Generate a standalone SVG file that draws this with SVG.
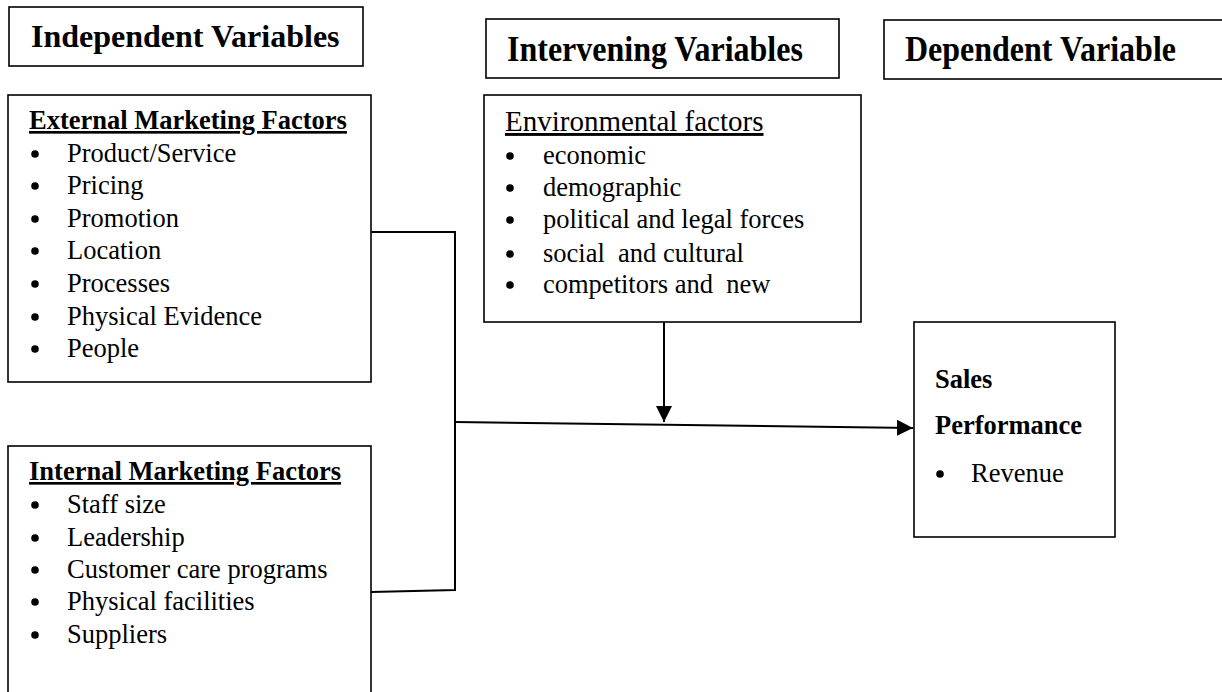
<svg xmlns="http://www.w3.org/2000/svg" width="1222" height="692" viewBox="0 0 1222 692">
<style>
.box{fill:#fff;stroke:#000;stroke-width:1.6}
.t{font-family:"Liberation Serif","Times New Roman",serif;fill:#000}
.hd{font-size:32px;font-weight:bold}
.it{font-size:26.5px}
.bh{font-size:26.5px;font-weight:bold;text-decoration:underline}
.sh{font-size:26.5px;font-weight:bold}
.eh{font-size:29px;text-decoration:underline}
.bul{fill:#000}
.con{fill:none;stroke:#000;stroke-width:2}
</style>
<defs>
<marker id="ah2" viewBox="0 0 10 10" refX="10" refY="5" markerWidth="16" markerHeight="16" markerUnits="userSpaceOnUse" orient="auto">
<path d="M0,0 L10,5 L0,10 Z" fill="#000"/>
</marker>
</defs>

<g id="hdr-independent">
<rect class="box" x="9" y="7" width="354" height="59"/>
<text class="t hd" x="31" y="47">Independent Variables</text>
</g>
<g id="hdr-intervening">
<rect class="box" x="486" y="19" width="353" height="59"/>
<text class="t hd" x="507" y="61" transform="translate(0,61) scale(1,1.13) translate(0,-61)">Intervening Variables</text>
</g>
<g id="hdr-dependent">
<rect class="box" x="884" y="20" width="345" height="59"/>
<text class="t hd" x="905" y="61" transform="translate(0,61) scale(1,1.13) translate(0,-61)">Dependent Variable</text>
</g>

<g id="external">
<rect class="box" x="8" y="95" width="363" height="287"/>
<text class="t bh" x="29" y="129">External Marketing Factors</text>
<g class="bul">
<circle cx="35" cy="154" r="3.8"/><circle cx="35" cy="186" r="3.8"/><circle cx="35" cy="219" r="3.8"/><circle cx="35" cy="251" r="3.8"/><circle cx="35" cy="284" r="3.8"/><circle cx="35" cy="317" r="3.8"/><circle cx="35" cy="349" r="3.8"/>
</g>
<text class="t it" x="67" y="162">Product/Service</text>
<text class="t it" x="67" y="194">Pricing</text>
<text class="t it" x="67" y="227">Promotion</text>
<text class="t it" x="67" y="259">Location</text>
<text class="t it" x="67" y="292">Processes</text>
<text class="t it" x="67" y="325">Physical Evidence</text>
<text class="t it" x="67" y="357">People</text>
</g>

<g id="internal">
<rect class="box" x="8" y="446" width="363" height="260"/>
<text class="t bh" x="29" y="480">Internal Marketing Factors</text>
<g class="bul">
<circle cx="35" cy="505" r="3.8"/><circle cx="35" cy="538" r="3.8"/><circle cx="35" cy="570" r="3.8"/><circle cx="35" cy="602" r="3.8"/><circle cx="35" cy="635" r="3.8"/>
</g>
<text class="t it" x="67" y="513">Staff size</text>
<text class="t it" x="67" y="546">Leadership</text>
<text class="t it" x="67" y="578">Customer care programs</text>
<text class="t it" x="67" y="610">Physical facilities</text>
<text class="t it" x="67" y="643">Suppliers</text>
</g>

<g id="environmental">
<rect class="box" x="484" y="95" width="377" height="227"/>
<text class="t eh" x="505" y="131">Environmental factors</text>
<g class="bul">
<circle cx="510" cy="156" r="3.8"/><circle cx="510" cy="188" r="3.8"/><circle cx="510" cy="220" r="3.8"/><circle cx="510" cy="254" r="3.8"/><circle cx="510" cy="285" r="3.8"/>
</g>
<text class="t it" x="543" y="164">economic</text>
<text class="t it" x="543" y="196">demographic</text>
<text class="t it" x="543" y="228">political and legal forces</text>
<text class="t it" x="543" y="262" xml:space="preserve">social  and cultural</text>
<text class="t it" x="543" y="293" xml:space="preserve">competitors and  new</text>
</g>

<g id="sales">
<rect class="box" x="914" y="322" width="201" height="215"/>
<text class="t sh" x="935" y="388">Sales</text>
<text class="t sh" x="935" y="434">Performance</text>
<circle class="bul" cx="940" cy="474" r="3.8"/>
<text class="t it" x="971" y="482">Revenue</text>
</g>

<g id="connectors">
<polyline class="con" points="371,232 455,232 455,590 371,592"/>
<line class="con" x1="455" y1="422" x2="913" y2="428" marker-end="url(#ah2)"/>
<line class="con" x1="664" y1="322" x2="664" y2="422" marker-end="url(#ah2)"/>
</g>
</svg>
